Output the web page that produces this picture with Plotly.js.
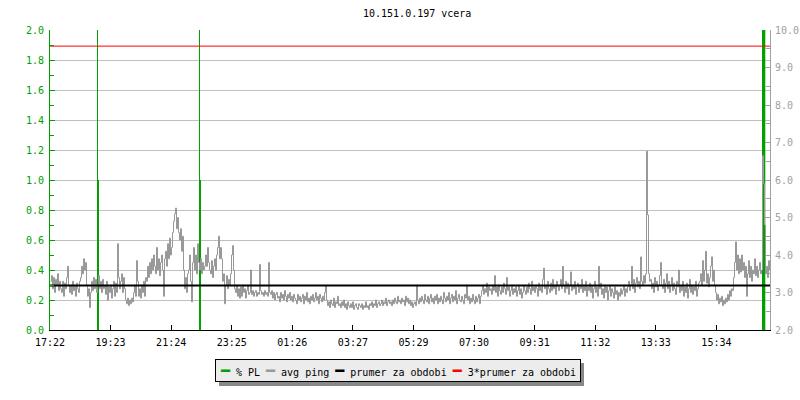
<!DOCTYPE html>
<html>
<head>
<meta charset="utf-8">
<script src="https://cdn.plot.ly/plotly-3.0.1.min.js"></script>
<style>html,body{margin:0;padding:0;background:#fff;}#chart{width:800px;height:400px;}</style>
</head>
<body>
<div id="chart"></div>
<script>
// ---- DATA ----
const titleText = "10.151.0.197 vcera";
const startTime = "2023-05-09 17:22:00";
const endTime = "2023-05-10 17:22:00";
const tickStepMs = 7270000; // 121 min 10 s between time labels
const pingStepMin = 2; // one ping sample every 2 minutes
const pingFirstMin = 1; // first ping sample 1 minute after startTime

// avg ping (ms, right axis)
const pingValues = [
3.3,3.45,3.1,3.4,3.0,3.35,3.2,3.5,3.05,3.3,
3.1,3.0,3.3,2.9,3.25,3.1,3.4,3.7,3.2,3.0,
3.2,2.95,3.3,3.05,3.2,2.9,3.25,3.1,3.0,3.3,
3.4,3.7,3.5,3.9,3.6,3.8,3.2,2.9,3.1,2.6,
3.0,3.3,3.05,3.4,3.1,3.35,3.0,3.2,3.45,3.1,
3.3,3.0,3.35,3.1,3.2,2.95,3.3,2.8,3.15,3.0,
3.2,2.85,3.1,3.3,2.9,3.25,3.0,4.3,3.4,3.1,
3.3,3.5,3.0,3.4,3.1,2.8,2.7,2.85,2.65,2.8,
2.7,2.85,2.75,3.0,3.2,2.9,3.85,3.3,2.9,3.1,
2.85,3.2,3.0,3.3,2.9,3.4,3.3,3.7,3.4,3.8,
3.5,3.9,3.6,4.0,3.7,3.5,4.2,3.6,3.9,3.45,
3.8,4.0,3.6,2.9,3.9,4.1,3.7,4.3,3.9,4.45,
4.0,4.2,4.6,4.9,5.1,5.25,4.7,5.0,4.6,4.4,
4.7,4.1,4.5,3.6,3.1,3.4,3.0,3.5,3.6,4.0,
3.3,2.75,3.8,4.2,3.6,4.0,3.5,4.3,3.8,3.6,
3.9,3.5,3.8,3.6,3.7,4.0,3.7,4.2,3.8,3.6,
3.5,3.85,3.4,3.7,3.9,3.6,4.0,4.2,4.5,3.9,
4.2,3.9,3.3,3.5,2.7,3.2,3.45,3.1,3.35,3.2,
3.5,4.0,4.25,3.6,3.1,3.0,3.2,2.9,3.1,2.85,
3.15,2.9,3.2,3.0,3.1,2.85,3.05,3.2,2.95,3.0,
3.6,2.95,3.05,2.9,3.0,3.05,2.9,3.0,2.95,3.75,
3.05,2.95,3.0,2.9,3.05,2.95,3.0,2.9,3.8,3.0,
2.95,3.05,2.85,3.0,2.8,2.95,3.0,2.85,2.9,2.75,
3.0,2.85,2.95,2.8,3.05,2.9,2.75,2.95,2.85,3.0,
2.8,2.9,2.75,2.95,2.85,2.8,2.7,2.95,2.8,2.9,
2.75,2.85,2.95,2.7,2.9,2.8,3.0,2.75,2.85,2.7,
2.9,2.8,2.95,2.75,2.85,3.0,2.8,2.9,2.7,2.95,
2.85,2.75,2.9,2.8,3.0,3.2,2.8,2.65,2.75,2.6,
2.8,2.7,2.65,2.85,2.6,2.75,2.7,2.9,2.65,2.7,
2.6,2.75,2.65,2.8,2.6,2.7,2.55,2.75,2.65,2.6,
2.7,2.6,2.75,2.55,2.65,2.7,2.6,2.55,2.7,2.65,
2.6,2.7,2.55,2.65,2.6,2.75,2.6,2.65,2.55,2.7,
2.65,2.75,2.6,2.7,2.65,2.8,2.6,2.7,2.75,2.65,
2.7,2.8,2.65,2.75,2.7,2.85,2.65,2.75,2.8,2.7,
2.75,2.65,2.8,2.7,2.85,2.75,2.7,2.9,2.75,2.8,
2.7,2.85,2.75,2.8,2.65,2.9,2.75,2.85,2.7,2.8,
2.65,2.75,2.6,2.7,2.75,2.65,3.2,2.8,2.7,2.85,
2.75,2.9,2.8,2.7,2.95,2.8,2.75,2.9,2.7,2.85,
2.95,2.75,2.85,2.7,2.9,2.8,2.95,2.7,2.85,2.75,
2.9,2.8,2.7,3.0,2.85,2.75,2.9,2.8,3.0,2.7,
2.85,2.95,2.75,2.9,2.8,3.05,2.7,2.85,2.95,2.8,
2.75,2.9,2.8,2.7,2.95,2.85,3.2,2.8,2.9,2.7,
2.85,2.75,2.95,2.8,2.7,2.9,2.75,2.85,2.95,2.7,
2.9,3.05,3.2,2.95,3.1,3.0,3.25,2.9,3.15,3.05,
3.1,2.95,3.2,3.05,3.45,3.0,3.15,2.9,3.2,3.05,
2.95,3.15,3.0,3.25,3.1,2.95,3.4,3.05,3.15,2.9,
3.05,3.2,2.95,3.1,3.0,3.15,2.9,3.05,3.2,2.95,
3.1,2.85,3.0,3.2,3.05,2.95,3.15,3.0,3.25,3.1,
2.95,3.3,3.05,3.15,3.0,3.2,3.1,2.9,3.25,3.05,
3.15,3.0,3.35,3.65,3.1,3.2,2.95,3.3,3.1,3.0,
3.25,3.05,3.35,3.1,3.2,2.95,3.3,3.15,3.05,3.2,
3.35,3.1,3.7,3.2,3.0,3.3,3.1,3.25,2.95,3.2,
3.55,3.05,3.2,3.1,3.3,2.95,3.15,3.25,3.0,3.2,
3.1,3.35,3.0,3.2,3.05,3.3,2.9,3.15,3.05,3.25,
3.0,3.2,2.85,3.1,3.3,3.0,3.15,2.9,3.7,3.1,
3.25,2.95,3.1,2.85,3.2,3.0,3.15,2.8,3.05,3.2,
2.9,3.1,3.0,2.85,3.15,2.95,3.05,2.8,3.0,2.9,
3.1,2.95,3.05,3.2,2.9,3.1,3.0,3.15,3.3,3.05,
3.2,3.7,3.1,3.35,3.0,3.25,3.4,3.15,3.3,3.1,
3.95,3.3,3.2,3.45,3.25,3.5,6.77,5.07,3.5,3.3,
3.35,3.1,3.25,3.0,3.4,3.15,3.3,3.05,3.2,3.45,
3.8,3.2,3.1,3.35,3.0,3.25,3.5,3.1,3.3,3.0,
3.2,3.4,3.05,3.25,3.1,2.95,3.3,3.15,3.6,3.0,
3.2,3.05,3.3,2.9,3.15,3.0,3.25,2.85,3.1,3.35,
3.0,3.2,2.95,3.15,3.05,3.3,2.9,3.1,3.25,3.3,
3.5,3.2,3.85,3.3,3.6,4.1,3.25,3.5,3.15,3.4,
3.7,3.95,3.3,3.6,3.2,3.0,2.8,2.95,2.7,2.85,
2.75,2.9,2.65,2.8,2.7,2.85,2.75,2.95,2.8,3.05,
2.9,3.1,3.05,3.4,3.8,4.35,3.6,4.0,3.5,3.9,
3.55,4.0,3.6,3.8,3.4,3.7,2.9,3.5,3.85,3.4,
3.7,3.3,3.6,3.5,3.9,3.45,3.7,3.4,3.6,3.8,
3.5,3.6,6.65,5.9,4.8,3.5,3.7,3.4,3.85,3.6
];

// packet loss events (left axis) : minutes from startTime
const plFromMin = [94.6, 298, 1424];
const plToMin   = [98.0, 302, 1430.6];
const plValues  = [1.0, 1.0, 10];
// short peaks of packet loss (thin lines)
const plPeakMin = [95, 299];
const plPeakValues = [10, 10];

const prumer = 3.19; // average over the period (ms)

const legendNames = ["% PL", "avg ping", "prumer za obdobi", "3*prumer za obdobi"];
const legendColors = ["#00a000", "#999999", "#000000", "#ff0000"];

// ---- BUILD ----
const t0 = Date.parse(startTime.replace(" ", "T") + "Z");
const t1 = Date.parse(endTime.replace(" ", "T") + "Z");
const minMs = 60000;

const pingX = pingValues.map((v, i) => t0 + (pingFirstMin + i * pingStepMin) * minMs);

const plX = plFromMin.map((f, i) => t0 + (f + plToMin[i]) / 2 * minMs);
const plW = plFromMin.map((f, i) => (plToMin[i] - f) * minMs);

const peakX = [], peakY = [];
plPeakMin.forEach((m, i) => { peakX.push(t0 + m * minMs, t0 + m * minMs, null); peakY.push(0, plPeakValues[i], null); });

const mono = "DejaVu Sans Mono, Liberation Mono, monospace";

const traces = [
  { type: "bar", x: plX, y: plValues, width: plW, yaxis: "y", xaxis: "x",
    marker: { color: legendColors[0], line: { width: 0 } }, showlegend: false, hoverinfo: "skip" },
  { type: "scatter", mode: "lines", x: peakX, y: peakY, yaxis: "y", xaxis: "x",
    line: { color: legendColors[0], width: 1 }, showlegend: false, hoverinfo: "skip" },
  { type: "scatter", mode: "lines", x: pingX, y: pingValues, yaxis: "y2", xaxis: "x",
    line: { color: legendColors[1], width: 1, shape: "hv" }, showlegend: false, hoverinfo: "skip" },
  { type: "scatter", mode: "lines", x: [t0, t1], y: [prumer, prumer], yaxis: "y2", xaxis: "x",
    line: { color: legendColors[2], width: 2 }, showlegend: false, hoverinfo: "skip" },
  { type: "scatter", mode: "lines", x: [t0, t1], y: [3 * prumer, 3 * prumer], yaxis: "y2", xaxis: "x",
    line: { color: legendColors[3], width: 1 }, showlegend: false, hoverinfo: "skip" }
];

const legendText = legendNames.map((n, i) =>
  '<span style="color:' + legendColors[i] + ';font-size:15px">━</span> ' + n).join(" ");

const layout = {
  width: 800, height: 400,
  margin: { l: 50, r: 30, t: 30, b: 70, pad: 0 },
  paper_bgcolor: "#ffffff", plot_bgcolor: "#ffffff",
  font: { family: mono, size: 10, color: "#000" },
  showlegend: false,
  barmode: "overlay",
  title: { text: titleText, x: 0.51, xref: "paper", y: 1 - 13 / 400, yref: "container",
           yanchor: "middle", font: { family: mono, size: 10, color: "#000" } },
  xaxis: {
    type: "date", range: [t0, t1], tick0: startTime, dtick: tickStepMs, tickformat: "%H:%M",
    ticks: "inside", ticklen: 5, tickcolor: "#000", tickwidth: 1, ticklabelstandoff: 3,
    showline: true, linecolor: "#000", linewidth: 1, showgrid: false, zeroline: false,
    tickfont: { family: mono, size: 10, color: "#000" }, fixedrange: true
  },
  yaxis: {
    range: [0, 2], dtick: 0.2, tick0: 0, tickformat: ".1f",
    ticks: "inside", ticklen: 5, tickcolor: "#00a000", tickwidth: 1, ticklabelstandoff: 3,
    showline: true, linecolor: "#00a000", linewidth: 1,
    showgrid: true, gridcolor: "#c0c0c0", gridwidth: 1, zeroline: false,
    tickfont: { family: mono, size: 10, color: "#00a000" },
    minor: { dtick: 0.1, ticks: "inside", ticklen: 4, tickcolor: "#00a000", showgrid: false },
    fixedrange: true
  },
  yaxis2: {
    overlaying: "y", side: "right", range: [2, 10], dtick: 1, tick0: 2, tickformat: ".1f",
    ticks: "inside", ticklen: 5, tickcolor: "#a0a0a0", tickwidth: 1, ticklabelstandoff: 2,
    showline: true, linecolor: "#a0a0a0", linewidth: 1, showgrid: false, zeroline: false,
    tickfont: { family: mono, size: 10, color: "#a0a0a0" },
    minor: { dtick: 0.5, ticks: "inside", ticklen: 4, tickcolor: "#a0a0a0", showgrid: false },
    fixedrange: true
  },
  shapes: [
    { type: "rect", xref: "paper", yref: "paper", layer: "above",
      x0: (219 - 50) / 720, x1: (584 - 50) / 720, y0: (330 - 386) / 300, y1: (330 - 363) / 300,
      fillcolor: "#888888", line: { width: 0 } }
  ],
  annotations: [
    { xref: "paper", yref: "paper", x: (398 - 50) / 720, y: (330 - 370) / 300,
      xanchor: "center", yanchor: "middle", showarrow: false,
      text: legendText, align: "center",
      font: { family: mono, size: 10, color: "#000" },
      width: 358, height: 15, borderpad: 3, bgcolor: "#ececec",
      bordercolor: "#000", borderwidth: 1 }
  ]
};

Plotly.newPlot("chart", traces, layout, { staticPlot: true, displayModeBar: false });
</script>
</body>
</html>
